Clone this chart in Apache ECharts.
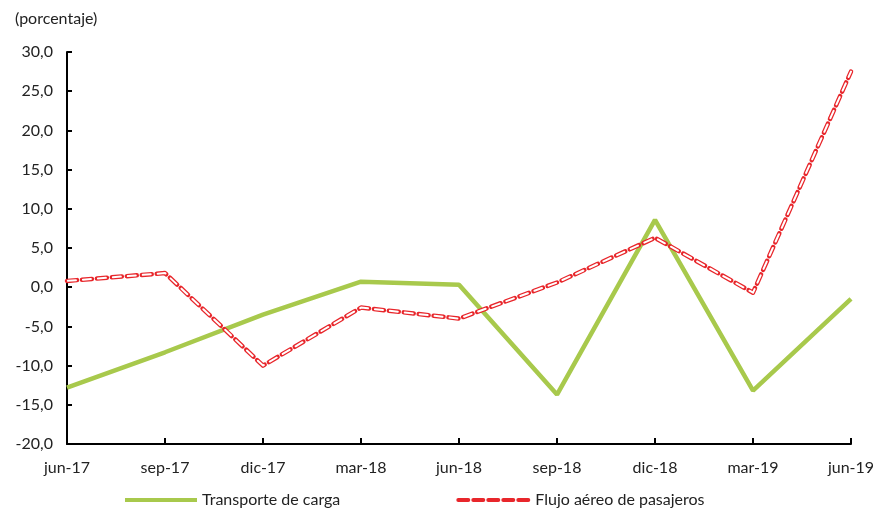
<!DOCTYPE html>
<html>
<head>
<meta charset="utf-8">
<script src="https://cdn.jsdelivr.net/npm/echarts@6/dist/echarts.min.js"></script>
<style>
  html, body { margin: 0; padding: 0; background: #fff; }
  #chart { width: 881px; height: 515px; }
</style>
</head>
<body>
<div id="chart"></div>
<script>
// categorias (trimestres)
const categories = ['jun-17', 'sep-17', 'dic-17', 'mar-18', 'jun-18', 'sep-18', 'dic-18', 'mar-19', 'jun-19'];
// series
const carga = [-12.8, -8.3, -3.5, 0.7, 0.3, -13.7, 8.6, -13.2, -1.5];
const pasajeros = [0.8, 1.8, -10.0, -2.6, -4.0, 0.6, 6.3, -0.7, 27.5];
const yTicks = [-20, -15, -10, -5, 0, 5, 10, 15, 20, 25, 30];

const font = 'Lato';
const chart = echarts.init(document.getElementById('chart'));

const option = {
  animation: false,
  textStyle: { fontFamily: font },
  title: {
    text: '(porcentaje)',
    left: 10, top: 6,
    textStyle: { fontFamily: font, fontSize: 16, fontWeight: 'normal', color: '#222' }
  },
  grid: { left: 67, right: 30, top: 52, bottom: 71 },
  legend: {
    bottom: 2,
    left: 118,
    itemWidth: 72,
    itemHeight: 12,
    itemGap: 116,
    data: ['Transporte de carga', 'Flujo aéreo de pasajeros'],
    itemStyle: { opacity: 0 },
    lineStyle: { width: 4 },
    textStyle: { fontFamily: font, fontSize: 16, color: '#222' }
  },
  xAxis: [
    {
      // etiquetas abajo
      type: 'category',
      data: categories,
      boundaryGap: false,
      position: 'bottom',
      axisLine: { show: false },
      axisTick: { show: false },
      axisLabel: { fontFamily: font, fontSize: 16, color: '#222', margin: 16 }
    },
    {
      // linea del cero
      type: 'category',
      data: categories,
      boundaryGap: false,
      position: 'bottom',
      axisLine: { onZero: true, lineStyle: { color: '#000', width: 2 } },
      axisTick: { show: true, inside: true, length: 6, lineStyle: { color: '#000', width: 2 } },
      axisLabel: { show: false }
    }
  ],
  yAxis: {
    type: 'value',
    min: yTicks[0],
    max: yTicks[yTicks.length - 1],
    interval: 5,
    axisLine: { show: true, onZero: false, lineStyle: { color: '#000', width: 2 } },
    axisTick: { show: true, inside: true, length: 5, lineStyle: { color: '#000', width: 2 } },
    splitLine: { show: false },
    axisLabel: {
      fontFamily: font, fontSize: 16, color: '#222', margin: 14,
      formatter: v => v.toFixed(1).replace('.', ',')
    }
  },
  series: [
    {
      name: 'Transporte de carga',
      type: 'line',
      data: carga,
      symbol: 'none',
      lineStyle: { color: '#A8C94C', width: 4.5 },
      itemStyle: { color: '#A8C94C' },
      z: 3
    },
    {
      name: 'Flujo aéreo de pasajeros',
      type: 'line',
      data: pasajeros,
      symbol: 'none',
      lineStyle: { color: '#E8262B', width: 4.5, type: [10, 5], cap: 'round', join: 'round' },
      itemStyle: { color: '#E8262B' },
      z: 4
    },
    {
      // relleno blanco de los trazos
      name: 'relleno',
      type: 'line',
      data: pasajeros,
      symbol: 'none',
      silent: true,
      lineStyle: { color: '#fff', width: 2, type: [8, 7], dashOffset: -1, cap: 'round', join: 'round' },
      z: 5
    }
  ]
};

chart.setOption(option);
</script>
</body>
</html>
